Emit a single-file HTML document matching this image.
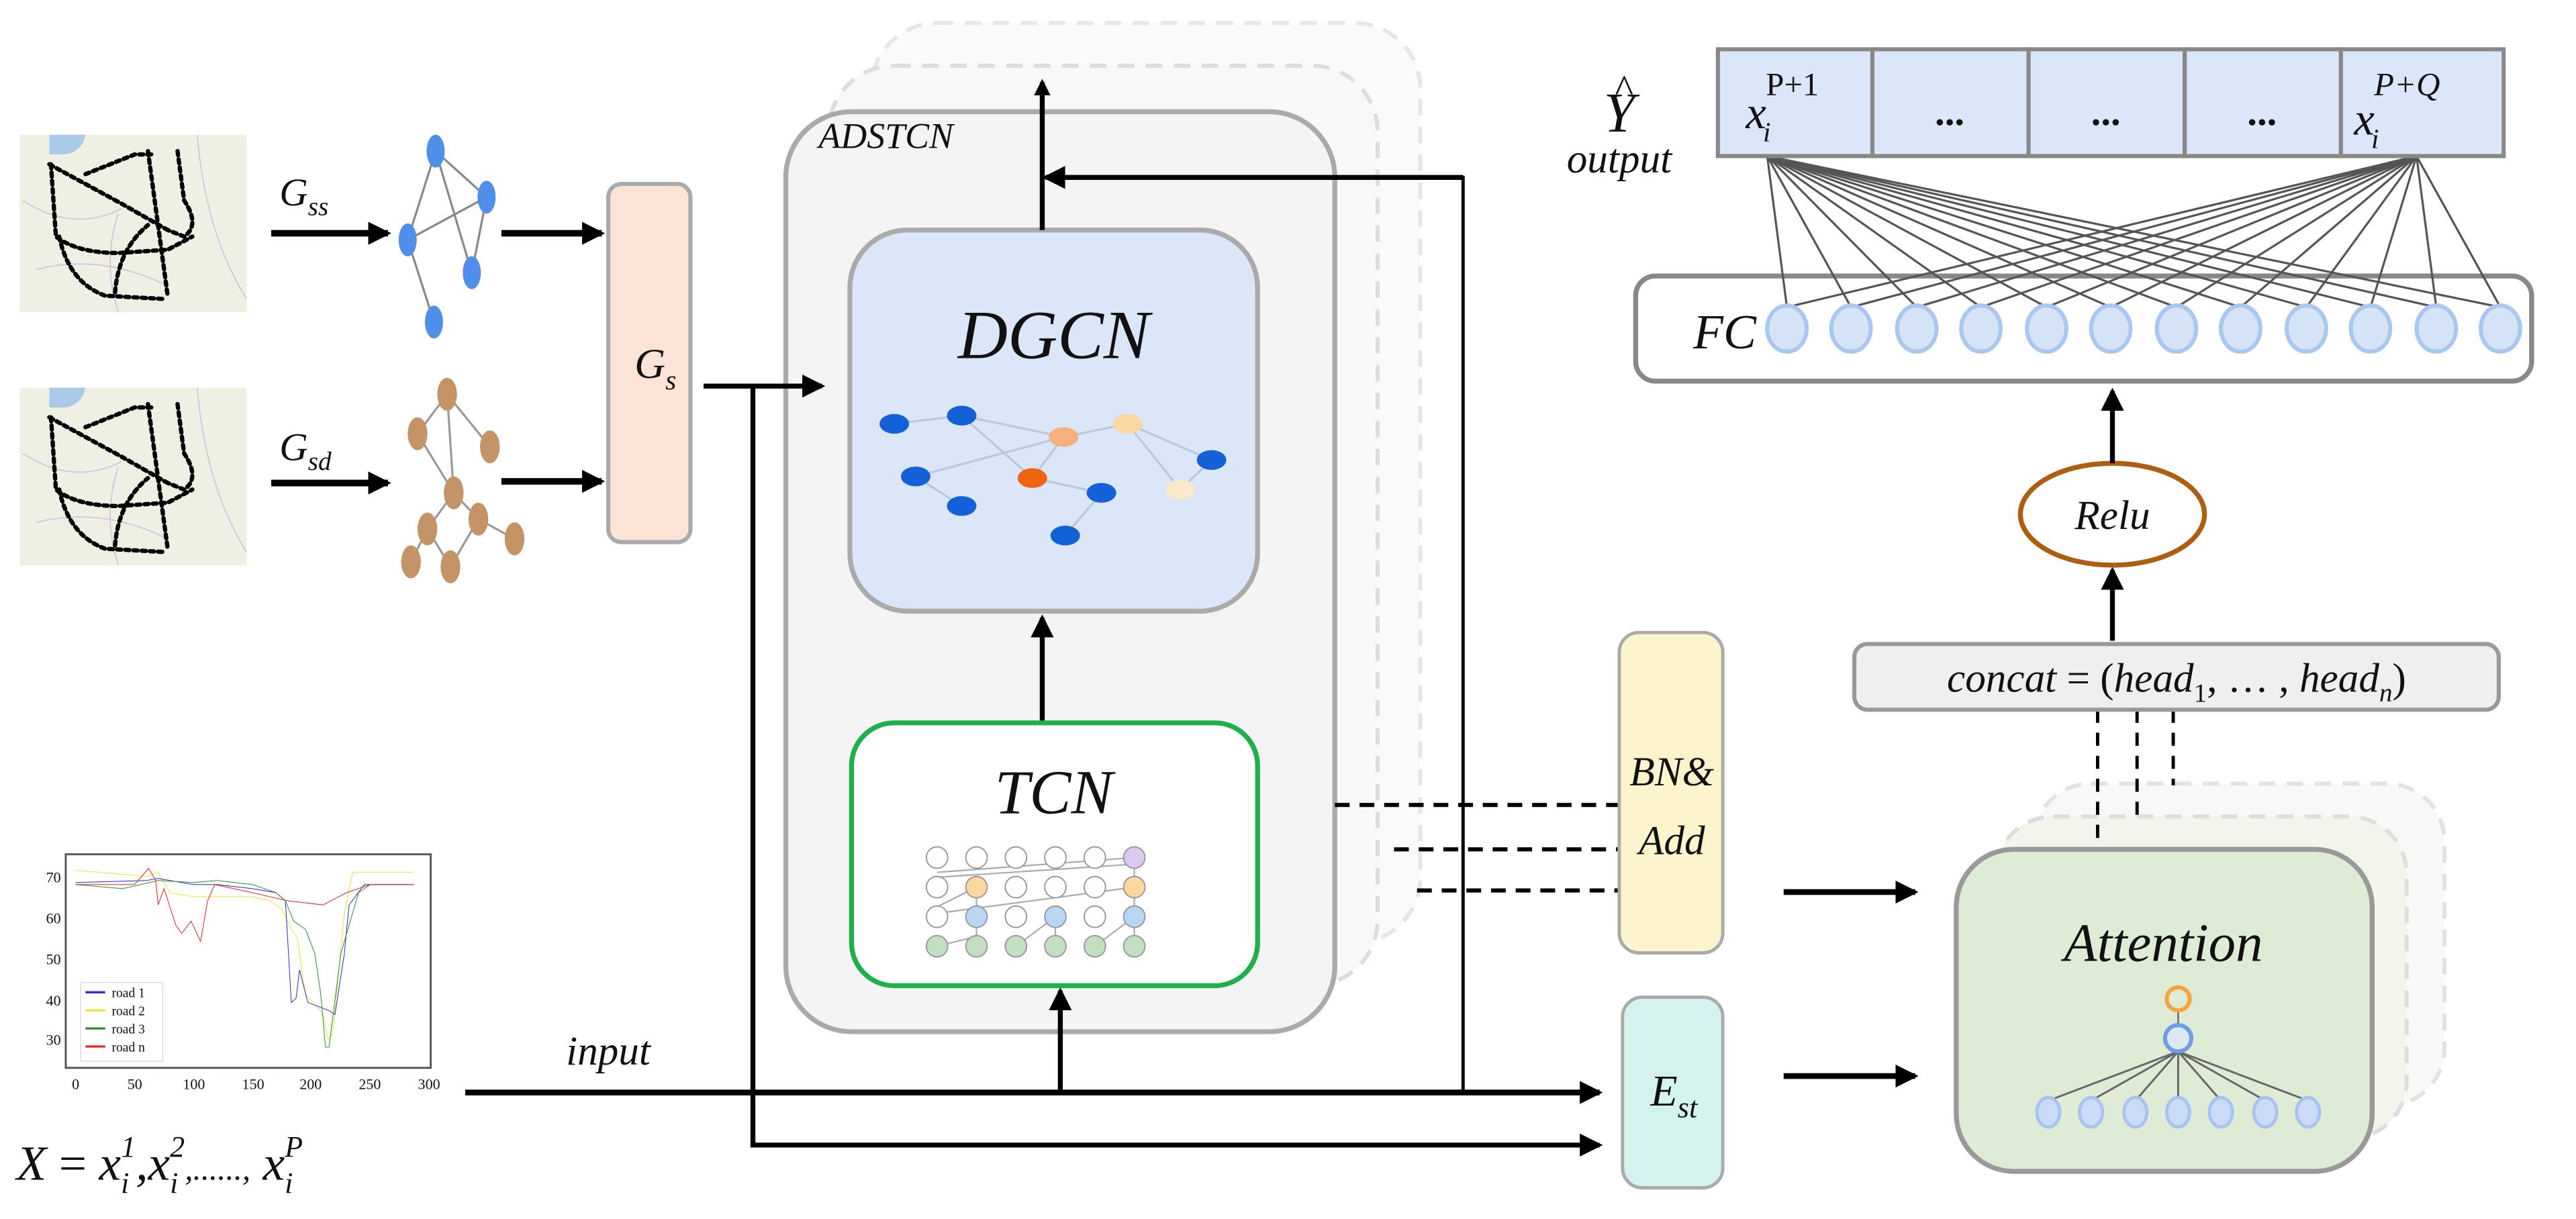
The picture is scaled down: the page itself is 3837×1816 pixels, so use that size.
<!DOCTYPE html>
<html><head><meta charset="utf-8"><style>
html,body{margin:0;padding:0;background:#fff;width:3837px;height:1816px;overflow:hidden}
svg{display:block}
text{font-family:"Liberation Serif",serif;font-style:italic;fill:#111}
</style></head><body>
<svg width="3837" height="1816" viewBox="0 0 1567 742" preserveAspectRatio="none" xmlns="http://www.w3.org/2000/svg">
<defs>
<marker id="ah" markerWidth="10" markerHeight="10" refX="8" refY="5" orient="auto" markerUnits="userSpaceOnUse"><path d="M0,0 L10,5 L0,10 Z" fill="#000"/></marker>
<marker id="ah2" markerWidth="14" markerHeight="14" refX="12" refY="7" orient="auto" markerUnits="userSpaceOnUse"><path d="M0,0 L14,7 L0,14 Z" fill="#000"/></marker>
<g id="map">
<rect x="0" y="0" width="138" height="108" fill="#eef0e4"/>
<path d="M18,0 h22 q-2,10 -12,12 h-10z" fill="#a9cbe8"/>
<path d="M2,40 q30,20 60,5 M10,82 q40,-10 80,10 M108,0 q5,60 30,100 M60,108 q-10,-30 0,-60" stroke="#d7c6dc" fill="none" stroke-width="0.8"/>
<g stroke="#000" stroke-width="2.6" fill="none" stroke-dasharray="2.5,2.5" stroke-linecap="round">
<path d="M18,18 L62,42 L90,58"/>
<path d="M19,18 L22,62 Q35,72 60,72 L90,70 L105,62"/>
<path d="M24,62 Q30,90 52,98 L88,100"/>
<path d="M40,24 L70,12 L80,12"/>
<path d="M78,10 L90,98"/>
<path d="M96,10 L100,40 Q110,55 100,62 L90,58"/>
<path d="M58,96 Q60,70 78,55"/>
</g></g>
</defs>

<use href="#map" x="12" y="82"/>
<use href="#map" x="12" y="236"/>

<text x="170" y="125" font-size="24">G<tspan font-size="16" dy="6">ss</tspan></text>
<line x1="165" y1="142" x2="236" y2="142" stroke="#000" stroke-width="4" marker-end="url(#ah2)"/>
<g stroke="#888" stroke-width="1.3">
<line x1="265" y1="92" x2="296" y2="120"/><line x1="265" y1="92" x2="248" y2="146"/><line x1="265" y1="92" x2="287" y2="166"/>
<line x1="296" y1="120" x2="248" y2="146"/><line x1="296" y1="120" x2="287" y2="166"/><line x1="248" y1="146" x2="264" y2="196"/>
</g>
<g fill="#4f8fe8"><ellipse cx="265" cy="92" rx="5.5" ry="10"/><ellipse cx="296" cy="120" rx="5.5" ry="10"/><ellipse cx="248" cy="146" rx="5.5" ry="10"/><ellipse cx="287" cy="166" rx="5.5" ry="10"/><ellipse cx="264" cy="196" rx="5.5" ry="10"/></g>
<line x1="305" y1="142" x2="366" y2="142" stroke="#000" stroke-width="4" marker-end="url(#ah2)"/>

<text x="170" y="280" font-size="24">G<tspan font-size="16" dy="6">sd</tspan></text>
<line x1="165" y1="294" x2="236" y2="294" stroke="#000" stroke-width="4" marker-end="url(#ah2)"/>
<g stroke="#999" stroke-width="1.3">
<line x1="272" y1="240" x2="254" y2="264"/><line x1="272" y1="240" x2="298" y2="272"/><line x1="272" y1="240" x2="276" y2="300"/>
<line x1="254" y1="264" x2="276" y2="300"/><line x1="276" y1="300" x2="260" y2="322"/><line x1="276" y1="300" x2="291" y2="316"/>
<line x1="260" y1="322" x2="274" y2="345"/><line x1="291" y1="316" x2="274" y2="345"/><line x1="291" y1="316" x2="313" y2="328"/><line x1="250" y1="342" x2="260" y2="322"/>
</g>
<g fill="#c49467"><ellipse cx="272" cy="240" rx="6" ry="10"/><ellipse cx="254" cy="264" rx="6" ry="10"/><ellipse cx="298" cy="272" rx="6" ry="10"/><ellipse cx="276" cy="300" rx="6" ry="10"/><ellipse cx="260" cy="322" rx="6" ry="10"/><ellipse cx="291" cy="316" rx="6" ry="10"/><ellipse cx="313" cy="328" rx="6" ry="10"/><ellipse cx="250" cy="342" rx="6" ry="10"/><ellipse cx="274" cy="345" rx="6" ry="10"/></g>
<line x1="305" y1="293" x2="366" y2="293" stroke="#000" stroke-width="4" marker-end="url(#ah2)"/>

<rect x="370" y="112" width="50" height="218" rx="8" fill="#fbe3d6" stroke="#aaa" stroke-width="2.5"/>
<text x="386" y="230" font-size="26">G<tspan font-size="17" dy="7">s</tspan></text>

<rect x="530" y="14" width="334" height="560" rx="40" fill="#fafafa" stroke="#e6e6e6" stroke-width="2.5" stroke-dasharray="10,7"/>
<rect x="504" y="40" width="334" height="560" rx="40" fill="#f8f8f8" stroke="#ddd" stroke-width="2.5" stroke-dasharray="10,7"/>
<rect x="478" y="68" width="334" height="560" rx="40" fill="#f3f4f3" stroke="#aaa" stroke-width="3"/>
<text x="498" y="90" font-size="22">ADSTCN</text>

<rect x="517" y="140" width="248" height="232" rx="35" fill="#dbe7f8" stroke="#aaa" stroke-width="3"/>
<text x="641" y="218" font-size="42" text-anchor="middle">DGCN</text>
<g stroke="#bcc8d8" stroke-width="1.3">
<line x1="544" y1="258" x2="585" y2="253"/><line x1="585" y1="253" x2="647" y2="266"/><line x1="585" y1="253" x2="628" y2="291"/>
<line x1="557" y1="290" x2="647" y2="266"/><line x1="557" y1="290" x2="585" y2="308"/><line x1="647" y1="266" x2="686" y2="258"/>
<line x1="647" y1="266" x2="628" y2="291"/><line x1="628" y1="291" x2="670" y2="300"/><line x1="670" y1="300" x2="648" y2="326"/>
<line x1="686" y1="258" x2="737" y2="280"/><line x1="686" y1="258" x2="718" y2="298"/><line x1="718" y1="298" x2="737" y2="280"/>
</g>
<g><ellipse cx="544" cy="258" rx="9" ry="6" fill="#1460d6"/><ellipse cx="585" cy="253" rx="9" ry="6" fill="#1460d6"/><ellipse cx="557" cy="290" rx="9" ry="6" fill="#1460d6"/><ellipse cx="585" cy="308" rx="9" ry="6" fill="#1460d6"/><ellipse cx="670" cy="300" rx="9" ry="6" fill="#1460d6"/><ellipse cx="648" cy="326" rx="9" ry="6" fill="#1460d6"/><ellipse cx="737" cy="280" rx="9" ry="6" fill="#1460d6"/>
<ellipse cx="628" cy="291" rx="9" ry="6" fill="#ee6413"/><ellipse cx="647" cy="266" rx="9" ry="6" fill="#f4b07f"/><ellipse cx="686" cy="258" rx="9" ry="6" fill="#fbd7a4"/><ellipse cx="718" cy="298" rx="9" ry="6" fill="#fde8cb"/></g>

<line x1="634" y1="140" x2="634" y2="50" stroke="#000" stroke-width="3" marker-end="url(#ah)"/>
<line x1="890" y1="108" x2="636" y2="108" stroke="#000" stroke-width="3" marker-end="url(#ah2)"/>
<line x1="890" y1="107" x2="890" y2="666" stroke="#000" stroke-width="2"/>
<line x1="634" y1="440" x2="634" y2="376" stroke="#000" stroke-width="3" marker-end="url(#ah2)"/>

<rect x="518" y="440" width="247" height="160" rx="26" fill="#fff" stroke="#1faf4b" stroke-width="3"/>
<text x="641" y="495" font-size="38" text-anchor="middle">TCN</text>
<g stroke="#aaa" stroke-width="0.9">
<line x1="570" y1="531" x2="690" y2="522"/><line x1="570" y1="534" x2="690" y2="526"/>
<line x1="570" y1="552" x2="594" y2="540"/><line x1="570" y1="556" x2="690" y2="540"/>
<line x1="594" y1="570" x2="570" y2="576"/><line x1="642" y1="558" x2="618" y2="576"/><line x1="690" y1="558" x2="666" y2="576"/>
<line x1="594" y1="540" x2="594" y2="576"/><line x1="642" y1="558" x2="642" y2="576"/><line x1="690" y1="522" x2="690" y2="576"/>
</g>
<g stroke="#999" stroke-width="0.8">
<circle cx="570" cy="522" r="6.5" fill="#fff"/><circle cx="594" cy="522" r="6.5" fill="#fff"/><circle cx="618" cy="522" r="6.5" fill="#fff"/><circle cx="642" cy="522" r="6.5" fill="#fff"/><circle cx="666" cy="522" r="6.5" fill="#fff"/><circle cx="690" cy="522" r="6.5" fill="#ddc9f0"/>
<circle cx="570" cy="540" r="6.5" fill="#fff"/><circle cx="594" cy="540" r="6.5" fill="#fcd79e"/><circle cx="618" cy="540" r="6.5" fill="#fff"/><circle cx="642" cy="540" r="6.5" fill="#fff"/><circle cx="666" cy="540" r="6.5" fill="#fff"/><circle cx="690" cy="540" r="6.5" fill="#fcd79e"/>
<circle cx="570" cy="558" r="6.5" fill="#fff"/><circle cx="594" cy="558" r="6.5" fill="#b7d7f5"/><circle cx="618" cy="558" r="6.5" fill="#fff"/><circle cx="642" cy="558" r="6.5" fill="#b7d7f5"/><circle cx="666" cy="558" r="6.5" fill="#fff"/><circle cx="690" cy="558" r="6.5" fill="#b7d7f5"/>
<circle cx="570" cy="576" r="6.5" fill="#c2e0c0"/><circle cx="594" cy="576" r="6.5" fill="#c2e0c0"/><circle cx="618" cy="576" r="6.5" fill="#c2e0c0"/><circle cx="642" cy="576" r="6.5" fill="#c2e0c0"/><circle cx="666" cy="576" r="6.5" fill="#c2e0c0"/><circle cx="690" cy="576" r="6.5" fill="#c2e0c0"/>
</g>

<line x1="428" y1="235" x2="500" y2="235" stroke="#000" stroke-width="3" marker-end="url(#ah2)"/>
<polyline points="458,235 458,697 973,697" fill="none" stroke="#000" stroke-width="3" marker-end="url(#ah2)"/>
<line x1="283" y1="665" x2="973" y2="665" stroke="#000" stroke-width="3.5" marker-end="url(#ah2)"/>
<line x1="645" y1="665" x2="645" y2="603" stroke="#000" stroke-width="3" marker-end="url(#ah2)"/>
<text x="370" y="648" font-size="25" text-anchor="middle">input</text>

<rect x="40" y="520" width="222" height="130" fill="#fff" stroke="#555" stroke-width="1.2"/>
<g font-family="Liberation Sans" font-size="9" fill="#333">
<text x="37" y="537" text-anchor="end" style="font-style:normal">70</text><text x="37" y="562" text-anchor="end" style="font-style:normal">60</text><text x="37" y="587" text-anchor="end" style="font-style:normal">50</text><text x="37" y="612" text-anchor="end" style="font-style:normal">40</text><text x="37" y="636" text-anchor="end" style="font-style:normal">30</text>
<text x="46" y="663" text-anchor="middle" style="font-style:normal">0</text><text x="82" y="663" text-anchor="middle" style="font-style:normal">50</text><text x="118" y="663" text-anchor="middle" style="font-style:normal">100</text><text x="154" y="663" text-anchor="middle" style="font-style:normal">150</text><text x="189" y="663" text-anchor="middle" style="font-style:normal">200</text><text x="225" y="663" text-anchor="middle" style="font-style:normal">250</text><text x="261" y="663" text-anchor="middle" style="font-style:normal">300</text>
</g>
<g transform="translate(46,704.25) scale(0.717,-2.475)" fill="none">
<polyline vector-effect="non-scaling-stroke" stroke-width="1" stroke="#e8e82a" points="0,70.5 60,69 70,70 80,65 100,64 150,64 165,63 175,61 183,56 188,54 195,40 205,37 210,35 214,29 218,30 228,60 235,70 250,70 287,70"/>
<polyline vector-effect="non-scaling-stroke" stroke-width="1" stroke="#2525e6" points="0,67.5 60,68 70,68.5 100,67 120,67 150,66 170,65 178,63 183,38 187,39 190,46 197,38 215,36 220,35 228,50 232,62 245,67 287,67"/>
<polyline vector-effect="non-scaling-stroke" stroke-width="1" stroke="#2a8c2a" points="0,67 40,66 70,68 100,67.5 120,68 150,67 170,65 178,63 185,58 195,56 203,50 208,40 212,27 215,27 225,50 240,65 250,67 287,67"/>
<polyline vector-effect="non-scaling-stroke" stroke-width="1" stroke="#f02020" points="0,67 50,67 62,71 68,68 70,62 75,66 85,57 90,55 98,58 106,53 112,63 118,67 150,65 180,63 210,62 230,65 250,67 287,67"/>
</g>
<rect x="49" y="598" width="50" height="48" fill="#fff" stroke="#ddd" stroke-width="0.6"/>
<g stroke-width="1.3"><line x1="52" y1="604" x2="64" y2="604" stroke="#2525e6"/><line x1="52" y1="615" x2="64" y2="615" stroke="#e8e82a"/><line x1="52" y1="626" x2="64" y2="626" stroke="#2a8c2a"/><line x1="52" y1="637" x2="64" y2="637" stroke="#f02020"/></g>
<g font-family="Liberation Sans" font-size="8" fill="#333"><text x="68" y="607" style="font-style:normal">road 1</text><text x="68" y="618" style="font-style:normal">road 2</text><text x="68" y="629" style="font-style:normal">road 3</text><text x="68" y="640" style="font-style:normal">road n</text></g>
<text x="10" y="718" font-size="30">X <tspan style="font-style:normal">=</tspan> x<tspan font-size="18" dy="8">i</tspan><tspan font-size="18" dx="-5" dy="-22">1</tspan><tspan dy="14">,</tspan>x<tspan font-size="18" dy="8">i</tspan><tspan font-size="18" dx="-5" dy="-22">2</tspan><tspan font-size="20" dy="14">,......,</tspan> x<tspan font-size="18" dy="8">i</tspan><tspan font-size="18" dx="-5" dy="-22">P</tspan></text>

<g stroke="#000" stroke-width="2.5" stroke-dasharray="9,6">
<line x1="812" y1="490" x2="985" y2="490"/><line x1="848" y1="517" x2="985" y2="517"/><line x1="862" y1="542" x2="985" y2="542"/>
</g>

<rect x="985" y="385" width="63" height="195" rx="12" fill="#fdf3cd" stroke="#aaa" stroke-width="2"/>
<text x="1017" y="478" font-size="25" text-anchor="middle">BN&amp;</text>
<text x="1017" y="520" font-size="25" text-anchor="middle">Add</text>
<rect x="987" y="607" width="61" height="116" rx="12" fill="#d4f3ee" stroke="#aaa" stroke-width="2"/>
<text x="1004" y="673" font-size="27">E<tspan font-size="18" dy="7">st</tspan></text>

<line x1="1085" y1="543" x2="1165" y2="543" stroke="#000" stroke-width="3.5" marker-end="url(#ah2)"/>
<line x1="1085" y1="655" x2="1165" y2="655" stroke="#000" stroke-width="3.5" marker-end="url(#ah2)"/>

<rect x="1237" y="477" width="250" height="196" rx="35" fill="#f8f9f6" stroke="#e2e2e2" stroke-width="2.5" stroke-dasharray="10,7"/>
<rect x="1214" y="497" width="250" height="196" rx="35" fill="#f1f5ec" stroke="#ddd" stroke-width="2.5" stroke-dasharray="10,7"/>
<g stroke="#000" stroke-width="2" stroke-dasharray="8,6">
<line x1="1276" y1="432" x2="1276" y2="517"/><line x1="1300" y1="432" x2="1300" y2="497"/><line x1="1322" y1="432" x2="1322" y2="478"/>
</g>
<rect x="1190" y="517" width="253" height="196" rx="35" fill="#dfecd5" stroke="#999" stroke-width="3"/>
<text x="1316" y="585" font-size="33" text-anchor="middle">Attention</text>
<line x1="1325" y1="615" x2="1325" y2="624" stroke="#666" stroke-width="1"/>
<g stroke="#666" stroke-width="1.2">
<line x1="1325" y1="640" x2="1246" y2="670"/><line x1="1325" y1="640" x2="1272" y2="670"/><line x1="1325" y1="640" x2="1299" y2="670"/><line x1="1325" y1="640" x2="1325" y2="670"/><line x1="1325" y1="640" x2="1351" y2="670"/><line x1="1325" y1="640" x2="1378" y2="670"/><line x1="1325" y1="640" x2="1404" y2="670"/>
</g>
<circle cx="1325" cy="608" r="7" fill="none" stroke="#f5a33a" stroke-width="2.5"/>
<circle cx="1325" cy="632" r="8" fill="#dce8f2" stroke="#6e9ee8" stroke-width="2.5"/>
<g fill="#c9dbf6" stroke="#a9c3f0" stroke-width="2">
<ellipse cx="1246" cy="677" rx="7" ry="9"/><ellipse cx="1272" cy="677" rx="7" ry="9"/><ellipse cx="1299" cy="677" rx="7" ry="9"/><ellipse cx="1325" cy="677" rx="7" ry="9"/><ellipse cx="1351" cy="677" rx="7" ry="9"/><ellipse cx="1378" cy="677" rx="7" ry="9"/><ellipse cx="1404" cy="677" rx="7" ry="9"/>
</g>

<rect x="1128" y="392" width="392" height="40" rx="8" fill="#efefef" stroke="#999" stroke-width="2.5"/>
<text x="1324" y="421" font-size="25" text-anchor="middle">concat <tspan style="font-style:normal">= (</tspan>head<tspan font-size="16" dy="6" style="font-style:normal">1</tspan><tspan dy="-6" style="font-style:normal">, … , </tspan>head<tspan font-size="16" dy="6">n</tspan><tspan dy="-6" style="font-style:normal">)</tspan></text>

<line x1="1285" y1="390" x2="1285" y2="347" stroke="#000" stroke-width="3" marker-end="url(#ah2)"/>
<ellipse cx="1285" cy="313" rx="56" ry="31" fill="#fff" stroke="#ad5e10" stroke-width="3"/>
<text x="1285" y="322" font-size="25" text-anchor="middle">Relu</text>
<line x1="1285" y1="282" x2="1285" y2="238" stroke="#000" stroke-width="3" marker-end="url(#ah2)"/>

<rect x="995" y="168" width="545" height="64" rx="12" fill="#fff" stroke="#888" stroke-width="3"/>
<text x="1030" y="212" font-size="30">FC</text>
<g stroke="#555" stroke-width="1.3">
<line x1="1075" y1="95" x2="1087" y2="187"/><line x1="1075" y1="95" x2="1126" y2="187"/><line x1="1075" y1="95" x2="1166" y2="187"/><line x1="1075" y1="95" x2="1205" y2="187"/><line x1="1075" y1="95" x2="1245" y2="187"/><line x1="1075" y1="95" x2="1284" y2="187"/><line x1="1075" y1="95" x2="1324" y2="187"/><line x1="1075" y1="95" x2="1363" y2="187"/><line x1="1075" y1="95" x2="1403" y2="187"/><line x1="1075" y1="95" x2="1442" y2="187"/><line x1="1075" y1="95" x2="1482" y2="187"/><line x1="1075" y1="95" x2="1521" y2="187"/>
<line x1="1470" y1="95" x2="1087" y2="187"/><line x1="1470" y1="95" x2="1126" y2="187"/><line x1="1470" y1="95" x2="1166" y2="187"/><line x1="1470" y1="95" x2="1205" y2="187"/><line x1="1470" y1="95" x2="1245" y2="187"/><line x1="1470" y1="95" x2="1284" y2="187"/><line x1="1470" y1="95" x2="1324" y2="187"/><line x1="1470" y1="95" x2="1363" y2="187"/><line x1="1470" y1="95" x2="1403" y2="187"/><line x1="1470" y1="95" x2="1442" y2="187"/><line x1="1470" y1="95" x2="1482" y2="187"/><line x1="1470" y1="95" x2="1521" y2="187"/>
</g>
<g fill="#d5e3f7" stroke="#a9c8f0" stroke-width="2.5">
<ellipse cx="1087" cy="200" rx="12" ry="14"/><ellipse cx="1126" cy="200" rx="12" ry="14"/><ellipse cx="1166" cy="200" rx="12" ry="14"/><ellipse cx="1205" cy="200" rx="12" ry="14"/><ellipse cx="1245" cy="200" rx="12" ry="14"/><ellipse cx="1284" cy="200" rx="12" ry="14"/><ellipse cx="1324" cy="200" rx="12" ry="14"/><ellipse cx="1363" cy="200" rx="12" ry="14"/><ellipse cx="1403" cy="200" rx="12" ry="14"/><ellipse cx="1442" cy="200" rx="12" ry="14"/><ellipse cx="1482" cy="200" rx="12" ry="14"/><ellipse cx="1521" cy="200" rx="12" ry="14"/>
</g>

<g fill="#dbe7f8" stroke="#888" stroke-width="2.5">
<rect x="1045" y="30" width="94" height="65"/><rect x="1139" y="30" width="95" height="65"/><rect x="1234" y="30" width="95" height="65"/><rect x="1329" y="30" width="95" height="65"/><rect x="1424" y="30" width="99" height="65"/>
</g>
<text x="1062" y="78" font-size="28">x<tspan font-size="17" dx="-2" dy="8">i</tspan><tspan font-size="20" dx="-3" dy="-28" style="font-style:normal">P+1</tspan></text>
<text x="1186" y="76" font-size="24" text-anchor="middle" style="font-style:normal;font-weight:bold">...</text>
<text x="1281" y="76" font-size="24" text-anchor="middle" style="font-style:normal;font-weight:bold">...</text>
<text x="1376" y="76" font-size="24" text-anchor="middle" style="font-style:normal;font-weight:bold">...</text>
<text x="1432" y="82" font-size="28">x<tspan font-size="17" dx="-2" dy="8">i</tspan><tspan font-size="20" dx="-3" dy="-32">P+Q</tspan></text>
<text x="985" y="80" font-size="34" text-anchor="middle">Y</text>
<text x="988" y="62" font-size="24" text-anchor="middle" style="font-style:normal">^</text>
<text x="985" y="105" font-size="25" text-anchor="middle">output</text>
</svg>
</body></html>
